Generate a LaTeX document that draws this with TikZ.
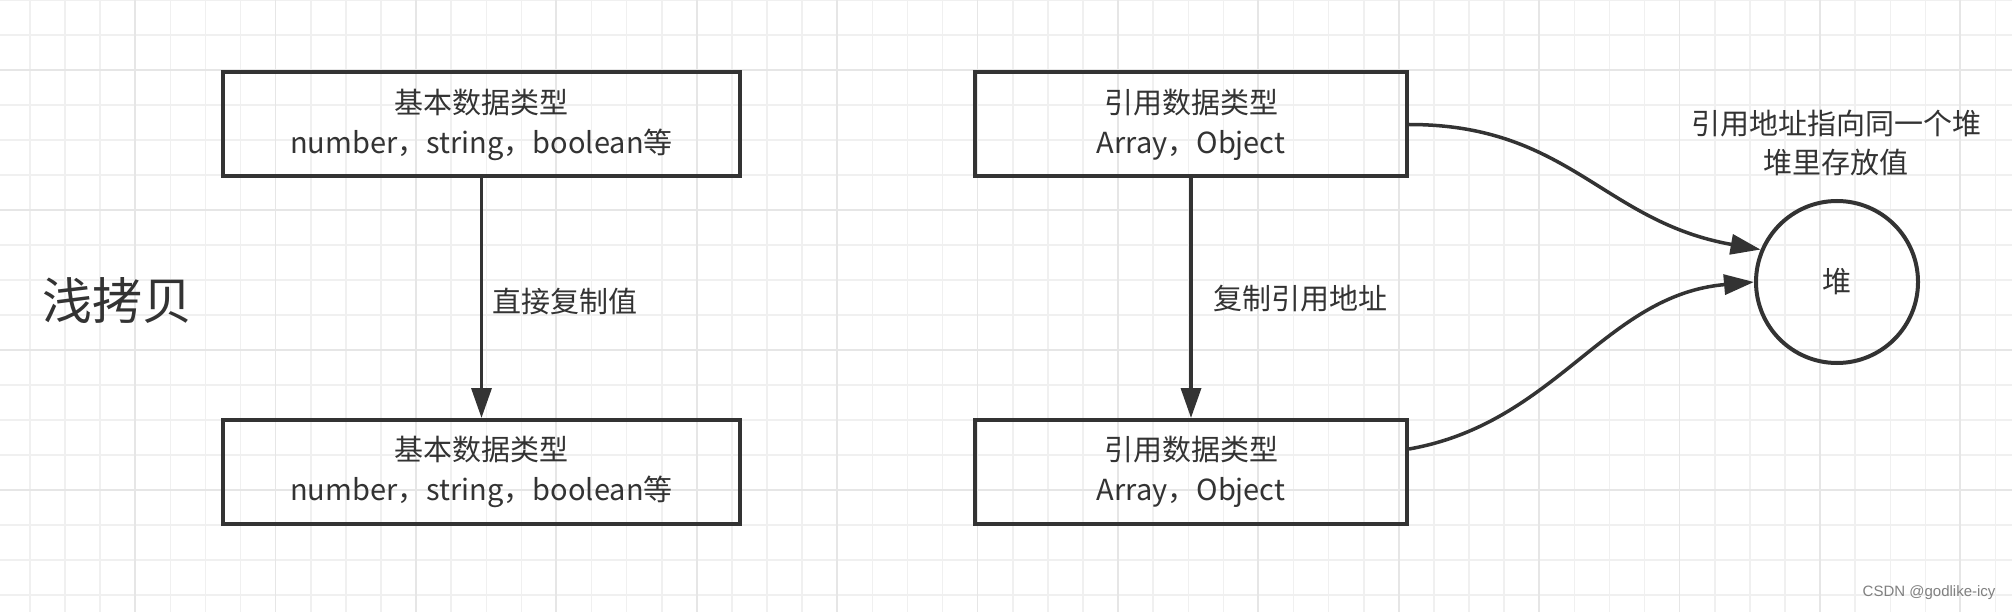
\documentclass[tikz,border=0pt]{standalone}
\usepackage{fontspec}
\setmainfont{Noto Sans CJK SC}
\newfontfamily\wmfont{Liberation Sans}
\usetikzlibrary{arrows.meta}
\definecolor{ink}{HTML}{333333}
\definecolor{gridc}{HTML}{F0F0F0}
\definecolor{gridm}{HTML}{E6E6E6}

\begin{document}
\begin{tikzpicture}[x=1pt,y=-1pt,
box/.style={rectangle,draw=ink,line width=4pt,minimum height=104pt,align=center,text=ink,font=\fontsize{29}{40}\selectfont},
lbl/.style={text=ink,align=center,font=\fontsize{29}{39}\selectfont},
arr/.style={draw=ink,line width=3.5pt,-{Triangle[length=30pt,width=20pt]}}]

\fill[white] (0,0) rectangle (2012,612);
\useasboundingbox (0,0) rectangle (2012,612);

% grid
\foreach \i in {0,...,56}
  \draw[gridc,line width=1.5pt] ({30+35.1*\i},0) -- ({30+35.1*\i},612);
\foreach \j in {0,...,17}
  \draw[gridc,line width=1.5pt] (0,{35*\j}) -- (2012,{35*\j});
\foreach \i in {0,...,13}
  \draw[gridm,line width=1.8pt] ({135+140.4*\i},0) -- ({135+140.4*\i},612);
\foreach \j in {0,...,3}
  \draw[gridm,line width=1.8pt] (0,{70+140*\j}) -- (2012,{70+140*\j});

\node[box,minimum width=517pt] (l1) at (481.5,124.5) {基本数据类型\\number，string，boolean等};
\node[box,minimum width=517pt] (l2) at (481.5,472) {基本数据类型\\number，string，boolean等};
\node[box,minimum width=432pt] (r1) at (1191,124.5) {引用数据类型\\Array，Object};
\node[box,minimum width=432pt] (r2) at (1191,472) {引用数据类型\\Array，Object};
\node[circle,draw=ink,line width=4pt,minimum size=162pt,text=ink,font=\fontsize{29}{40}\selectfont] (h) at (1837,282) {堆};

\node[text=ink,font=\fontsize{50}{60}\selectfont] (t) at (117,301) {浅拷贝};
\node[lbl,anchor=west] (c1) at (489,301) {直接复制值};
\node[lbl,anchor=west] (c2) at (1210,299) {复制引用地址};
\node[lbl] (n) at (1836,143) {引用地址指向同一个堆\\堆里存放值};
\node[anchor=east,text=black!50,font=\wmfont\fontsize{15}{18}\selectfont] (w) at (1999,593) {CSDN @godlike-icy};

\draw[arr] (l1) -- (l2);
\draw[arr] (r1) -- (r2);
\draw[arr] (r1.east) to[out=0,in=170,looseness=1.1] (h.157);
\draw[arr] ([yshift=23pt]r2.east) to[out=10,in=185] (h.west);
\end{tikzpicture}
\end{document}
